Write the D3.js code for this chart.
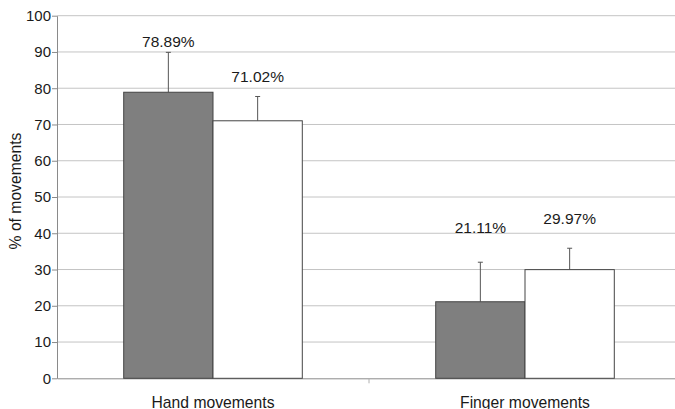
<!DOCTYPE html>
<html>
<head>
<meta charset="utf-8">
<title>Movements</title>
<style>
  html, body { margin: 0; padding: 0; background: #fff; }
  svg { display: block; font-family: "Liberation Sans", Arial, sans-serif; }
</style>
</head>
<body>
<script src="https://d3js.org/d3.v7.min.js"></script>
<script>
const categories = ["Hand movements", "Finger movements"];
const series = ["dark", "light"];
const means = [[78.89, 71.02], [21.11, 29.97]];
const errors = [[11.0, 6.7], [10.9, 5.9]];
const valueLabels = [["78.89%", "71.02%"], ["21.11%", "29.97%"]];
// where the labels sit, in % units
const labelAt = [[91.3, 81.7], [40.1, 42.6]];
const yTicks = [0, 10, 20, 30, 40, 50, 60, 70, 80, 90, 100];

const w = 675, h = 409;
const mLeft = 57, mRight = 681, mTop = 15.7, mBottom = 378.3;

const svg = d3.select("body").append("svg")
  .attr("width", w).attr("height", h);

const x0 = d3.scaleBand().domain(categories).range([mLeft, mRight]);
const x1 = d3.scaleBand().domain(series).range([0, x0.bandwidth()]).paddingOuter(0.747);
const y = d3.scaleLinear().domain([0, 100]).range([mBottom, mTop]);

// gridlines
svg.append("g").selectAll("line")
  .data(yTicks.filter(d => d > 0))
  .join("line")
  .attr("x1", mLeft).attr("x2", mRight)
  .attr("y1", d => y(d)).attr("y2", d => y(d))
  .attr("stroke", "#c4c4c4").attr("stroke-width", 1);

// y axis
const yAxis = svg.append("g")
  .attr("transform", `translate(${mLeft},0)`)
  .call(d3.axisLeft(y).tickValues(yTicks).tickSize(5).tickPadding(1).tickSizeOuter(0));
yAxis.selectAll("path, line").attr("stroke", "#8a8a8a");
yAxis.selectAll("text").attr("font-size", 15).attr("fill", "#1a1a1a")
  .attr("font-family", "Liberation Sans, Arial, sans-serif");

// x axis
const xAxis = svg.append("g")
  .attr("transform", `translate(0,${mBottom})`)
  .call(d3.axisBottom(x0).tickSize(0).tickPadding(18.5).tickSizeOuter(0));
xAxis.select("path").attr("stroke", "#8a8a8a");
xAxis.selectAll("text").attr("font-size", 15.7).attr("fill", "#1a1a1a")
  .attr("font-family", "Liberation Sans, Arial, sans-serif");
// separators between categories
svg.append("g").selectAll("line")
  .data(categories.slice(1))
  .join("line")
  .attr("x1", d => x0(d)).attr("x2", d => x0(d))
  .attr("y1", mBottom).attr("y2", mBottom + 5)
  .attr("stroke", "#b0b0b0");

// y title
svg.append("text")
  .attr("transform", "translate(21,191) rotate(-90)")
  .attr("text-anchor", "middle")
  .attr("font-size", 15.7).attr("fill", "#1a1a1a")
  .text("% of movements");

const fills = { dark: "#7f7f7f", light: "#ffffff" };

const groups = svg.append("g").selectAll("g")
  .data(categories)
  .join("g")
  .attr("transform", d => `translate(${x0(d)},0)`);

const cells = groups.selectAll("g")
  .data((c, ci) => series.map((s, si) => ({
    s, v: means[ci][si], e: errors[ci][si], lab: valueLabels[ci][si], at: labelAt[ci][si]
  })))
  .join("g");

// error bars (behind bars)
cells.append("line")
  .attr("x1", d => x1(d.s) + x1.bandwidth() / 2)
  .attr("x2", d => x1(d.s) + x1.bandwidth() / 2)
  .attr("y1", d => y(d.v)).attr("y2", d => y(d.v + d.e))
  .attr("stroke", "#555").attr("stroke-width", 1);
cells.append("line")
  .attr("x1", d => x1(d.s) + x1.bandwidth() / 2 - 2.5)
  .attr("x2", d => x1(d.s) + x1.bandwidth() / 2 + 2.5)
  .attr("y1", d => y(d.v + d.e)).attr("y2", d => y(d.v + d.e))
  .attr("stroke", "#555").attr("stroke-width", 1);

cells.append("rect")
  .attr("x", d => x1(d.s))
  .attr("y", d => y(d.v))
  .attr("width", x1.bandwidth())
  .attr("height", d => y(0) - y(d.v))
  .attr("fill", d => fills[d.s])
  .attr("stroke", "#444").attr("stroke-width", 1);

cells.append("text")
  .attr("x", d => x1(d.s) + x1.bandwidth() / 2)
  .attr("y", d => y(d.at))
  .attr("text-anchor", "middle")
  .attr("font-size", 15.5).attr("fill", "#1a1a1a")
  .text(d => d.lab);
</script>
</body>
</html>
